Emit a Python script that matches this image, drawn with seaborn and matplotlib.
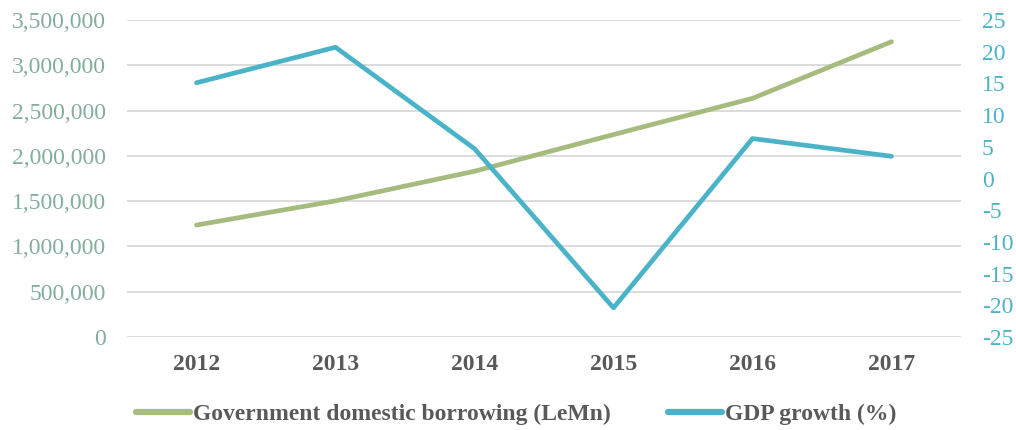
import matplotlib
matplotlib.use("Agg")
import matplotlib.pyplot as plt
import seaborn as sns
import pandas as pd
from matplotlib.ticker import FuncFormatter, MultipleLocator
from matplotlib.lines import Line2D

years = ["2012", "2013", "2014", "2015", "2016", "2017"]
borrowing = [1236000, 1503000, 1830000, 2235000, 2635000, 3260000]
gdp_growth = [15.1, 20.7, 4.7, -20.4, 6.3, 3.5]
borrow_label = "Government domestic borrowing (LeMn)"
gdp_label = "GDP growth (%)"

GREEN = "#A6BC7E"
BLUE = "#4BB3C8"
LEFT_TICK = "#84AE9C"
DARK = "#595959"

sns.set_theme(style="white")
plt.rcParams["font.family"] = ["Liberation Serif", "DejaVu Serif"]

df = pd.DataFrame({"year": years, "borrowing": borrowing, "gdp": gdp_growth})
df["x"] = range(len(years))

fig = plt.figure(figsize=(10.16, 4.30), dpi=100)
ax = fig.add_axes([127 / 1016, 1 - 337 / 430, 834 / 1016, 317 / 430])
ax2 = ax.twinx()

sns.lineplot(data=df, x="x", y="borrowing", ax=ax, color=GREEN, linewidth=3.4,
             solid_capstyle="round", legend=False)
sns.lineplot(data=df, x="x", y="gdp", ax=ax2, color=BLUE, linewidth=3.4,
             solid_capstyle="round", legend=False)

ax.set_xlim(-0.5, len(years) - 0.5)
ax.set_ylim(0, 3500000)
ax2.set_ylim(-25, 25)
ax.yaxis.set_major_locator(MultipleLocator(500000))
ax2.yaxis.set_major_locator(MultipleLocator(5))
ax.yaxis.set_major_formatter(FuncFormatter(lambda v, p: f"{int(v):,}"))
ax2.yaxis.set_major_formatter(FuncFormatter(lambda v, p: f"{int(v)}"))

ax.set_xticks(df["x"])
ax.set_xticklabels(years, fontsize=17, fontweight="bold", color=DARK)
ax.grid(axis="y", color="#D9D9D9", linewidth=1.3)
ax.set_axisbelow(True)
ax.tick_params(axis="y", labelsize=17, colors=LEFT_TICK, length=0, pad=15)
ax.tick_params(axis="x", length=0, pad=12)
ax2.tick_params(axis="y", labelsize=17, colors=BLUE, length=0, pad=15)
ax.set_xlabel("")
ax.set_ylabel("")
ax2.set_ylabel("")
for a in (ax, ax2):
    for s in a.spines.values():
        s.set_visible(False)

handles = [Line2D([0], [0], color=GREEN, linewidth=4.5, solid_capstyle="round"),
           Line2D([0], [0], color=BLUE, linewidth=4.5, solid_capstyle="round")]
leg = fig.legend(handles, [borrow_label, gdp_label], loc="center",
                 bbox_to_anchor=(0.508, 1 - 414 / 430), ncol=2, frameon=False,
                 prop={"size": 17, "weight": "bold"}, handlelength=2.3,
                 handletextpad=0.12, columnspacing=2.4, borderpad=0)
for t in leg.get_texts():
    t.set_color(DARK)

fig.savefig("out.png", dpi=100)
